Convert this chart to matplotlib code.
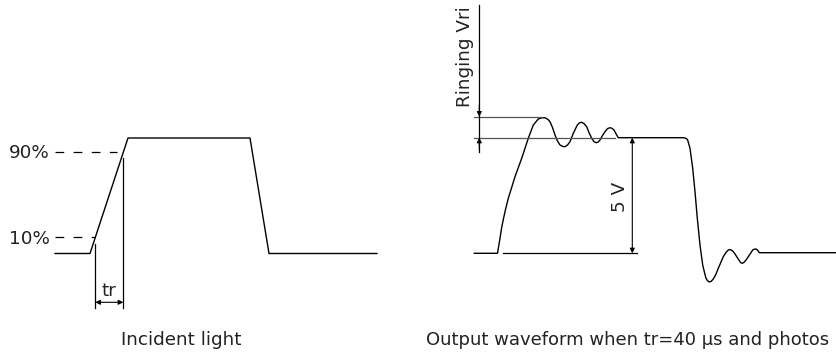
import matplotlib
matplotlib.use("Agg")
import matplotlib.pyplot as plt

# diagram drawn in pixel space of the 837x352 reference (y grows downwards)

# incident light pulse
light_x = [55, 90, 128, 250, 269, 377]
light_y = [253.5, 253.5, 138, 138, 253.5, 253.5]

# 10% / 90% level markers
level_labels = ["90%", "10%"]
level_y = [151.5, 236.5]
level_end_x = [117, 95]

# rise time markers
tr_x = [95.3, 123.3]
tr_top_y = [244, 158]

# output waveform
out_x = [474.3, 497.5, 498.8, 500, 501.5, 503.3, 505.5, 508.3, 515, 521.7,
         528.3, 533.3, 538.3,
         541.5, 545, 548, 550, 552.5, 555, 557.5, 560, 562.5, 565, 567.5,
         570, 573.3, 577.3, 579.5, 581.7, 584, 586.7, 589, 591.7, 594, 596,
         598, 600, 602.5, 605, 607.5, 610, 612, 614, 616, 618.3, 683.3,
         685.5, 687.5, 690, 692.7, 695, 697.3, 700, 702.7, 704.5, 706, 707.8,
         709.3, 711.3, 713.3, 715.8, 718.3, 723.3, 726, 728.3, 730.5, 732.7,
         734.7, 736.7, 740.7, 742.3, 744, 746, 748.3, 752.7, 754.3, 756,
         757.7, 759.3, 837]
out_y = [253.3, 253.3, 245.5, 238.3, 228.5, 219.5, 209.5, 198.3, 176.7, 158.3,
         138.3, 125, 119,
         117.9, 117.7, 119.5, 121.7, 127.5, 135, 141, 145, 146.4, 146.7, 145,
         141.7, 133.3, 125, 122.8, 122.3, 123.6, 126.7, 132.5, 138.3, 141.6, 142.7,
         142.2, 140, 135.5, 131.7, 128.6, 127.7, 128.3, 130, 133.8, 137.7, 137.7,
         138.2, 139.5, 148.3, 168.3, 191.7, 218.3, 245, 265, 272.5, 278.3, 281,
         282, 281.2, 279, 274.5, 268.3, 256.7, 252.4, 250, 249.6, 251,
         253.5, 256.7, 262.7, 263.3, 262.3, 260, 256.7, 250, 249.2, 249,
         250.3, 252.7, 252.7]

# reference levels around the output waveform
ring_top_y = 116.7
ring_level_y = 137.7
base_y = 253.3

ink = "black"
grey = "#555555"
txt = "#222222"
fs = 13.2

fig = plt.figure(figsize=(8.37, 3.52), dpi=100)
ax = fig.add_axes([0, 0, 1, 1])
ax.set_xlim(0, 837)
ax.set_ylim(352, 0)
ax.axis("off")

# left panel
ax.plot(light_x, light_y, color=ink, lw=1.0)
for lab, y, xe in zip(level_labels, level_y, level_end_x):
    ax.plot([55, xe], [y, y], color=ink, lw=0.9, dashes=(7, 7.5))
    ax.text(50, y + 2, lab, ha="right", va="center", fontsize=fs, color=txt)
for x, yt in zip(tr_x, tr_top_y):
    ax.plot([x, x], [yt, 308], color=ink, lw=0.9)
ax.annotate("", xy=(tr_x[0], 302.3), xytext=(tr_x[1], 302.3),
            arrowprops=dict(arrowstyle="<|-|>", color=ink, lw=0.8,
                            mutation_scale=7, shrinkA=0, shrinkB=0))
ax.text(109, 291.5, "tr", ha="center", va="center", fontsize=fs, color=txt)
ax.text(181, 340, "Incident light", ha="center", va="center", fontsize=fs, color=txt)

# right panel
ax.plot(out_x, out_y, color=ink, lw=1.0)
ax.plot([474.3, 541.7], [ring_top_y, ring_top_y], color=grey, lw=0.9)
ax.plot([474.3, 615], [ring_level_y, ring_level_y], color=grey, lw=0.9)
ax.plot([502.7, 637.3], [base_y, base_y], color=ink, lw=0.9)

# ringing marker
ax.plot([479.3, 479.3], [5, 151.7], color=ink, lw=0.9)
ax.annotate("", xy=(479.3, ring_top_y), xytext=(479.3, ring_top_y - 12),
            arrowprops=dict(arrowstyle="-|>", color=ink, lw=0.8,
                            mutation_scale=7, shrinkA=0, shrinkB=0))
ax.annotate("", xy=(479.3, ring_level_y), xytext=(479.3, ring_level_y + 12),
            arrowprops=dict(arrowstyle="-|>", color=ink, lw=0.8,
                            mutation_scale=7, shrinkA=0, shrinkB=0))
ax.text(465, 56.5, "Ringing Vri", rotation=90, ha="center", va="center",
        fontsize=fs, color=txt)

# 5 V marker
ax.annotate("", xy=(632.3, ring_level_y), xytext=(632.3, base_y),
            arrowprops=dict(arrowstyle="<|-|>", color=ink, lw=0.8,
                            mutation_scale=7, shrinkA=0, shrinkB=0))
ax.text(620, 197, "5 V", rotation=90, ha="center", va="center",
        fontsize=fs, color=txt)

# caption is cut at the right edge in the reference; keep the visible part
ax.text(426, 340, "Output waveform when tr=40 \u03bcs and photos",
        ha="left", va="center", fontsize=13, color=txt)

fig.savefig("out.png", dpi=100)
